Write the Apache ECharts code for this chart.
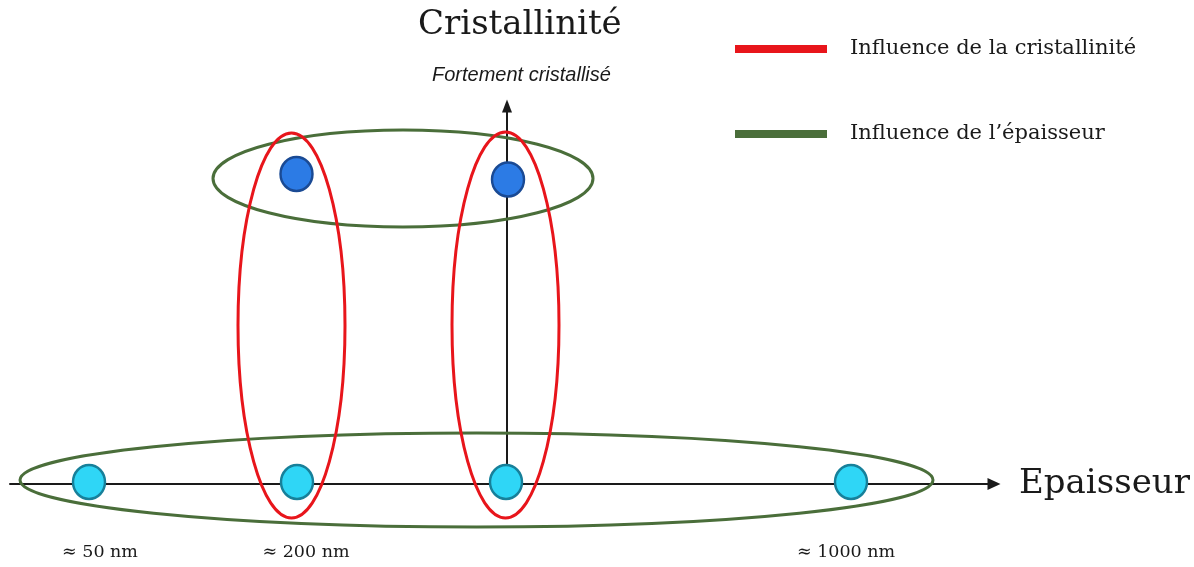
<!DOCTYPE html>
<html>
<head>
<meta charset="utf-8">
<script src="https://cdn.jsdelivr.net/npm/echarts@6/dist/echarts.min.js"></script>
<style>
  html, body { margin: 0; padding: 0; background: #ffffff; }
  #chart { width: 1194px; height: 567px; }
</style>
</head>
<body>
<div id="chart"></div>
<script>
// ---- Data (abstract diagram units) ----
const thicknessTickValues = [-40.7, -20.1, 33.9];
const thicknessTickLabels = ['≈ 50 nm', '≈ 200 nm', '≈ 1000 nm'];

// samples with low crystallinity, on the thickness axis: [x, y]
const lowCrystalSamples = [[-41.8, 0.2], [-21.0, 0.2], [-0.1, 0.2], [34.4, 0.2]];
// samples strongly crystallised: [x, y]
const highCrystalSamples = [[-21.05, 31.0], [0.1, 30.45]];

// groupings drawn as ellipses: [cx, cy, rx, ry]
const crystallinityGroups = [[-21.55, 15.85, 5.35, 19.25], [-0.15, 15.9, 5.35, 19.3]];
const thicknessGroups = [[-3.05, 0.4, 45.65, 4.7], [-10.4, 30.55, 19.0, 4.85]];

const seriesNames = ['Influence de la cristallinité', 'Influence de l’épaisseur'];
const axisNames = ['Epaisseur', 'Cristallinité'];
const topNote = 'Fortement cristallisé';

// ---- Styles ----
const RED = '#E8151B';
const GREEN = '#4A6E3A';
const SERIF = 'DejaVu Serif';

function ellipseRenderer(color) {
  return function (params, api) {
    const c = api.coord([api.value(0), api.value(1)]);
    const s = api.size([api.value(2), api.value(3)]);
    return {
      type: 'ellipse',
      shape: { cx: c[0], cy: c[1], rx: s[0], ry: s[1] },
      style: { fill: null, stroke: color, lineWidth: 3 }
    };
  };
}

const chart = echarts.init(document.getElementById('chart'), null, { renderer: 'canvas' });
chart.setOption({
  animation: false,
  backgroundColor: '#ffffff',
  title: [
    {
      text: axisNames[1], left: 418, top: 8, padding: 0,
      textStyle: { fontFamily: SERIF, fontSize: 34, fontWeight: 'normal', color: '#1a1a1a' }
    },
    {
      text: topNote, left: 432, top: 65, padding: 0,
      textStyle: { fontFamily: 'Liberation Sans', fontSize: 20, fontStyle: 'italic', fontWeight: 'normal', color: '#1a1a1a' }
    }
  ],
  legend: {
    data: [
      { name: seriesNames[0], icon: 'rect', itemStyle: { color: RED } },
      { name: seriesNames[1], icon: 'rect', itemStyle: { color: GREEN } }
    ],
    orient: 'vertical',
    left: 735, top: 37, padding: 0,
    itemWidth: 92, itemHeight: 8, itemGap: 61,
    selectedMode: false,
    textStyle: { fontFamily: SERIF, fontSize: 21, lineHeight: 24, color: '#1a1a1a', padding: [0, 0, 0, 18] }
  },
  grid: { left: 10, right: 200, top: 106, bottom: 83, containLabel: false },
  xAxis: {
    type: 'value', min: -49.7, max: 48.7,
    name: axisNames[0], nameLocation: 'end', nameGap: 25,
    nameTextStyle: { fontFamily: SERIF, fontSize: 34, color: '#1a1a1a', verticalAlign: 'middle' },
    axisLine: { show: true, onZero: true, symbol: ['none', 'triangle'], symbolSize: [12, 13],
      lineStyle: { color: '#1a1a1a', width: 2 } },
    axisTick: { show: false },
    splitLine: { show: false },
    axisLabel: {
      show: true,
      customValues: thicknessTickValues,
      margin: 59,
      fontFamily: SERIF, fontSize: 17.5, color: '#1a1a1a',
      formatter: function (v) {
        let best = 0;
        for (let i = 1; i < thicknessTickValues.length; i++) {
          if (Math.abs(thicknessTickValues[i] - v) < Math.abs(thicknessTickValues[best] - v)) best = i;
        }
        return thicknessTickLabels[best];
      }
    }
  },
  yAxis: {
    type: 'value', min: 0, max: 37.8,
    axisLine: { show: true, onZero: true, symbol: ['none', 'triangle'], symbolSize: [10, 13],
      lineStyle: { color: '#1a1a1a', width: 2 } },
    axisTick: { show: false },
    splitLine: { show: false },
    axisLabel: { show: false }
  },
  series: [
    {
      name: seriesNames[1], type: 'custom', clip: false, z: 3,
      itemStyle: { color: GREEN },
      encode: { x: 0, y: 1 },
      renderItem: ellipseRenderer(GREEN),
      data: thicknessGroups
    },
    {
      name: seriesNames[0], type: 'custom', clip: false, z: 4,
      itemStyle: { color: RED },
      encode: { x: 0, y: 1 },
      renderItem: ellipseRenderer(RED),
      data: crystallinityGroups
    },
    {
      name: 'low', type: 'scatter', clip: false, z: 5,
      symbol: 'circle', symbolSize: [32, 34],
      itemStyle: { color: '#2FD6F6', borderColor: '#17809A', borderWidth: 2.5, opacity: 1 },
      emphasis: { disabled: true },
      data: lowCrystalSamples
    },
    {
      name: 'high', type: 'scatter', clip: false, z: 5,
      symbol: 'circle', symbolSize: [32, 34],
      itemStyle: { color: '#2C7BE5', borderColor: '#1A4A94', borderWidth: 2.5, opacity: 1 },
      emphasis: { disabled: true },
      data: highCrystalSamples
    }
  ]
});
</script>
</body>
</html>
